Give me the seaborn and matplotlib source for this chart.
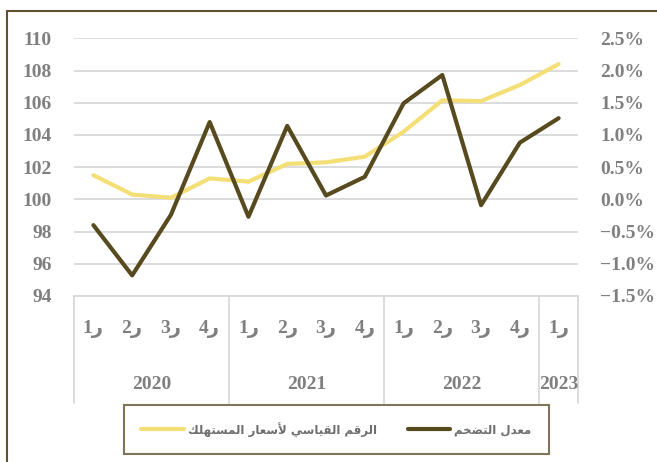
import matplotlib
matplotlib.use("Agg")
import matplotlib.pyplot as plt
import seaborn as sns
import pandas as pd
from matplotlib.lines import Line2D
from matplotlib.ticker import FuncFormatter

# data
years = ["2020", "2020", "2020", "2020", "2021", "2021", "2021", "2021",
         "2022", "2022", "2022", "2022", "2023"]
quarters = [1, 2, 3, 4, 1, 2, 3, 4, 1, 2, 3, 4, 1]
cpi = [101.5, 100.3, 100.1, 101.3, 101.1, 102.2, 102.3, 102.65,
       104.2, 106.15, 106.1, 107.1, 108.4]
inflation = [-0.40, -1.18, -0.24, 1.20, -0.27, 1.14, 0.06, 0.35,
             1.49, 1.93, -0.09, 0.88, 1.26]

# arabic labels, shaped with presentation forms (logical order, reversed for display)
cpi_label = ("\uFE8D\uFEDF\uFEAE\uFED7\uFEE2 "
             "\uFE8D\uFEDF\uFED8\uFEF4\uFE8E\uFEB3\uFEF2 "
             "\uFEF7\uFEB3\uFECC\uFE8E\uFEAD "
             "\uFE8D\uFEDF\uFEE4\uFEB4\uFE98\uFEEC\uFEE0\uFEDA")[::-1]
infl_label = "\uFEE3\uFECC\uFEAA\uFEDD \uFE8D\uFEDF\uFE98\uFEC0\uFEA8\uFEE2"[::-1]
q_labels = [f"{q}\u0631" for q in quarters]

df = pd.DataFrame({"x": range(len(cpi)), "cpi": cpi, "inflation": inflation})

yellow = "#F3DF76"
dark = "#574A1E"
grey = "#7F7F7F"
frame = "#5E5230"

sns.set_style("white")
plt.rcParams["font.family"] = ["Liberation Serif", "DejaVu Sans"]
plt.rcParams["font.weight"] = "bold"

fig = plt.figure(figsize=(6.57, 4.62), dpi=100)
ax = fig.add_axes([74 / 657, 1 - 296 / 462, 504 / 657, (296 - 38.3) / 462])
ax2 = ax.twinx()

sns.lineplot(data=df, x="x", y="cpi", ax=ax, color=yellow, lw=3.0, label=cpi_label, legend=False)
sns.lineplot(data=df, x="x", y="inflation", ax=ax2, color=dark, lw=3.0, label=infl_label, legend=False)

ax.set_xlim(-0.5, len(cpi) - 0.5)
ax.set_ylim(94, 110)
ax.set_yticks(range(94, 111, 2))
ax2.set_ylim(-1.5, 2.5)
ax2.set_yticks([-1.5, -1.0, -0.5, 0.0, 0.5, 1.0, 1.5, 2.0, 2.5])
ax2.yaxis.set_major_formatter(FuncFormatter(lambda v, p: f"{v:.1f}%".replace("-", "\u2212")))

for a in (ax, ax2):
    for s in a.spines.values():
        s.set_visible(False)
    a.set_xlabel("")
    a.set_ylabel("")

ax.grid(axis="y", color="#D9D9D9", lw=1.3)
ax.grid(axis="x", visible=False)
ax.set_axisbelow(True)
ax.tick_params(axis="y", length=0, pad=16, labelsize=14, labelcolor=grey)
ax2.tick_params(axis="y", length=0, pad=16, labelsize=14, labelcolor=grey)
ax.set_xticks(df["x"])
ax.set_xticklabels(q_labels)
ax.tick_params(axis="x", length=0, pad=17, labelsize=14, labelcolor=grey)

# category box under the axis
tr = ax.get_xaxis_transform()
ax.plot([-0.5, len(cpi) - 0.5], [0, 0], color="#D9D9D9", lw=1.3, transform=tr, clip_on=False)
uniq = list(dict.fromkeys(years))
start = -0.5
bounds = [start]
for y in uniq:
    n = years.count(y)
    ax.text(start + n / 2, -0.345, y, transform=tr, ha="center", va="center",
            fontsize=14, color=grey, fontweight="bold")
    start += n
    bounds.append(start)
for b in bounds:
    ax.plot([b, b], [0, -0.415], color="#D9D9D9", lw=1.3, transform=tr, clip_on=False)

# legend
handles = [Line2D([], [], color=yellow, lw=3.0), Line2D([], [], color=dark, lw=3.0)]
leg = fig.legend(handles, [cpi_label, infl_label], loc="center", bbox_to_anchor=(0.512, 0.071),
                 ncol=2, frameon=True, fancybox=False, handlelength=3.6, handletextpad=0.35,
                 columnspacing=2.6, borderpad=1.45,
                 prop={"family": ["DejaVu Sans"], "size": 8.5, "weight": "bold"})
leg.get_frame().set_edgecolor(frame)
leg.get_frame().set_linewidth(1.5)
for t in leg.get_texts():
    t.set_color("#6E6E6E")

# outer frame
fig.add_artist(Line2D([7 / 657, 7 / 657], [0, 1 - 11 / 462], color=frame, lw=1.5))
fig.add_artist(Line2D([7 / 657, 1], [1 - 11 / 462, 1 - 11 / 462], color=frame, lw=1.5))

fig.savefig("out.png", dpi=100)
